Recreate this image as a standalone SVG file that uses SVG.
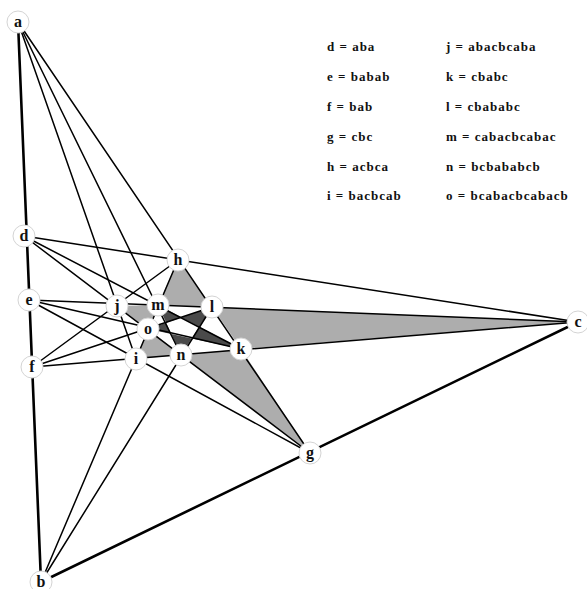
<svg xmlns="http://www.w3.org/2000/svg" width="587" height="589" viewBox="0 0 587 589">
<style>
.ln{stroke:#000;stroke-width:1.5;fill:none;stroke-linecap:round}
.thick{stroke-width:2.6}
.lt{fill:#adadad;stroke:none}
.dk{fill:#4a4a4a;stroke:none}
.nd circle{fill:#fff;stroke:#d4d4d4;stroke-width:1}
.nd text{font-family:"Liberation Serif","Times New Roman",serif;font-weight:bold;font-size:16px;text-anchor:middle;fill:#111}
.lg{font-family:"Liberation Serif","Times New Roman",serif;font-weight:bold;font-size:13px;letter-spacing:1px;fill:#111}
</style>
<rect width="587" height="589" fill="#fff"/>
<g id="shading">
<polygon class="lt" points="178,260 158,305 212,307"/>
<polygon class="lt" points="212,307 241,349 578,322"/>
<polygon class="lt" points="241,349 181,355 310,453"/>
<polygon class="lt" points="181,355 148,329 136,359"/>
<polygon class="lt" points="148,329 158,305 117,306"/>
<polygon class="dk" points="158,305 166.2,322.8 181.5,317.5"/>
<polygon class="dk" points="212,307 181.5,317.5 199.2,326.8"/>
<polygon class="dk" points="241,349 199.2,326.8 191.7,338.4"/>
<polygon class="dk" points="181,355 191.7,338.4 171.3,334"/>
<polygon class="dk" points="148,329 171.3,334 166.2,322.8"/>
</g>
<g id="connectors">
<line class="ln thick" x1="18" y1="22" x2="41" y2="582"/>
<line class="ln thick" x1="41" y1="582" x2="578" y2="322"/>
<line class="ln" x1="18" y1="22" x2="310" y2="453"/>
<line class="ln" x1="41" y1="582" x2="178" y2="260"/>
<line class="ln" x1="29" y1="300" x2="578" y2="322"/>
<line class="ln" x1="32" y1="367" x2="578" y2="322"/>
<line class="ln" x1="24" y1="236" x2="310" y2="453"/>
<line class="ln" x1="18" y1="22" x2="181" y2="355"/>
<line class="ln" x1="18" y1="22" x2="136" y2="359"/>
<line class="ln" x1="41" y1="582" x2="212" y2="307"/>
<line class="ln" x1="24" y1="236" x2="578" y2="322"/>
<line class="ln" x1="24" y1="236" x2="241" y2="349"/>
<line class="ln" x1="29" y1="300" x2="241" y2="349"/>
<line class="ln" x1="29" y1="300" x2="310" y2="453"/>
<line class="ln" x1="32" y1="367" x2="178" y2="260"/>
<line class="ln" x1="32" y1="367" x2="212" y2="307"/>
</g>
<g id="node-a" class="nd"><circle cx="18" cy="22" r="11"/><text x="18" y="27">a</text></g>
<g id="node-b" class="nd"><circle cx="41" cy="582" r="11"/><text x="41" y="587">b</text></g>
<g id="node-c" class="nd"><circle cx="578" cy="322" r="11"/><text x="578" y="327">c</text></g>
<g id="node-d" class="nd"><circle cx="24" cy="236" r="11"/><text x="24" y="241">d</text></g>
<g id="node-e" class="nd"><circle cx="29" cy="300" r="11"/><text x="29" y="305">e</text></g>
<g id="node-f" class="nd"><circle cx="32" cy="367" r="11"/><text x="32" y="372">f</text></g>
<g id="node-g" class="nd"><circle cx="310" cy="453" r="11"/><text x="310" y="458">g</text></g>
<g id="node-h" class="nd"><circle cx="178" cy="260" r="11"/><text x="178" y="265">h</text></g>
<g id="node-i" class="nd"><circle cx="136" cy="359" r="11"/><text x="136" y="364">i</text></g>
<g id="node-j" class="nd"><circle cx="117" cy="306" r="11"/><text x="117" y="311">j</text></g>
<g id="node-k" class="nd"><circle cx="241" cy="349" r="11"/><text x="241" y="354">k</text></g>
<g id="node-l" class="nd"><circle cx="212" cy="307" r="11"/><text x="212" y="312">l</text></g>
<g id="node-m" class="nd"><circle cx="158" cy="305" r="11"/><text x="158" y="310">m</text></g>
<g id="node-n" class="nd"><circle cx="181" cy="355" r="11"/><text x="181" y="360">n</text></g>
<g id="node-o" class="nd"><circle cx="148" cy="329" r="11"/><text x="148" y="334">o</text></g>
<g id="legend">
<text class="lg" x="327" y="51">d = aba</text>
<text class="lg" x="327" y="81">e = babab</text>
<text class="lg" x="327" y="111">f = bab</text>
<text class="lg" x="327" y="141">g = cbc</text>
<text class="lg" x="327" y="171">h = acbca</text>
<text class="lg" x="327" y="200">i = bacbcab</text>
<text class="lg" x="446" y="51">j = abacbcaba</text>
<text class="lg" x="446" y="81">k = cbabc</text>
<text class="lg" x="446" y="111">l = cbababc</text>
<text class="lg" x="446" y="141">m = cabacbcabac</text>
<text class="lg" x="446" y="171">n = bcbababcb</text>
<text class="lg" x="446" y="200">o = bcabacbcabacb</text>
</g>
</svg>
